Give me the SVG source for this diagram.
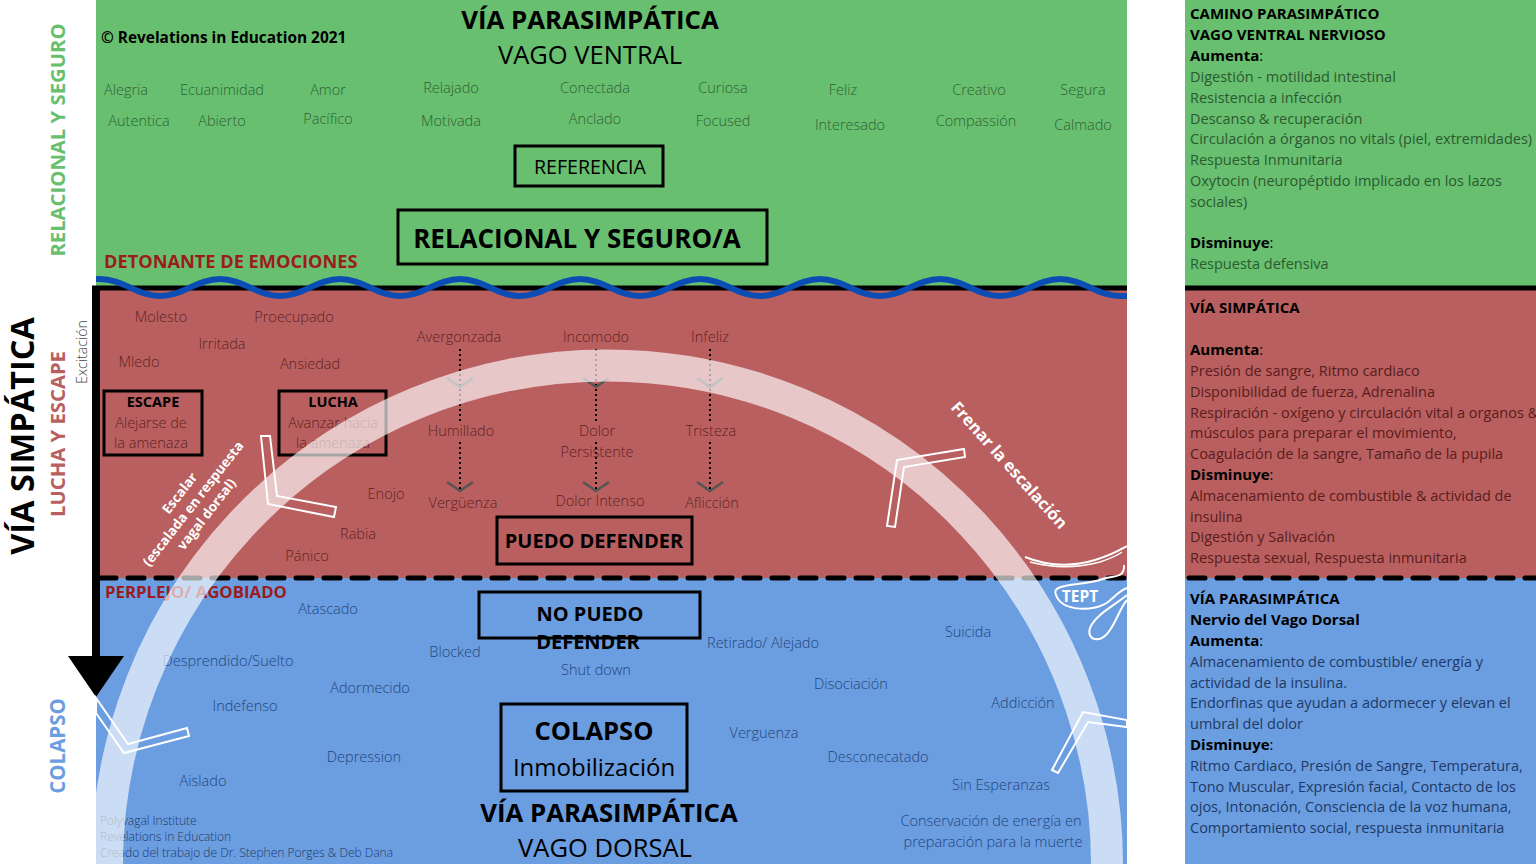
<svg xmlns="http://www.w3.org/2000/svg" width="1536" height="864" viewBox="0 0 1536 864">
<defs>
<style>
text { font-family: "Open Sans", "Liberation Sans", sans-serif; }
.h { font-weight: 700; fill: #000; text-anchor: middle; }
.hl { font-weight: 400; fill: #000; text-anchor: middle; }
.gw { font-size: 14.5px; font-weight: 300; fill: #2e5f35; text-anchor: middle; }
.rw { font-size: 14.5px; font-weight: 300; fill: #5e1f1f; text-anchor: middle; }
.bw { font-size: 14.5px; font-weight: 300; fill: #23467c; text-anchor: middle; }
.box { fill: none; stroke: #000; stroke-width: 3; }
.chev { fill: none; stroke: #fff; stroke-width: 2; stroke-linejoin: miter; }
.dot { stroke: #000; stroke-width: 2; stroke-dasharray: 2 3; fill: none; }
.vh { fill: none; stroke: #555; stroke-width: 2.5; }
.rp { font-size: 14.5px; font-weight: 400; }
.b { font-weight: 700; fill: #000; font-size: 15px; }
.dash { stroke: #000; stroke-width: 5; stroke-dasharray: 16 12; stroke-linecap: round; fill: none; }
.cr { font-size: 12px; font-weight: 300; fill: #1f3a66; }
</style>
</defs>
<rect x="0" y="0" width="1536" height="864" fill="#fff"/>

<g id="zones">
<rect x="96" y="0" width="1031" height="288" fill="#68bf6f"/>
<rect x="96" y="288" width="1031" height="290" fill="#b95f5f"/>
<rect x="96" y="578" width="1031" height="286" fill="#6b9de1"/>
<rect x="1185" y="0" width="351" height="288" fill="#68bf6f"/>
<rect x="1185" y="288" width="351" height="290" fill="#b95f5f"/>
<rect x="1185" y="578" width="351" height="286" fill="#6b9de1"/>
</g>

<g id="side-labels">
<text transform="translate(65,140) rotate(-90)" text-anchor="middle" font-size="20.3" font-weight="700" fill="#68bf6f">RELACIONAL Y SEGURO</text>
<text transform="translate(34,436) rotate(-90)" text-anchor="middle" font-size="32.5" font-weight="700" fill="#000">VÍA SIMPÁTICA</text>
<text transform="translate(65,434) rotate(-90)" text-anchor="middle" font-size="20.3" font-weight="700" fill="#b95f5f">LUCHA Y ESCAPE</text>
<text transform="translate(87,352) rotate(-90)" text-anchor="middle" font-size="14.2" font-weight="300" fill="#444">Excitación</text>
<text transform="translate(65,746) rotate(-90)" text-anchor="middle" font-size="20.5" font-weight="700" fill="#6b9de1">COLAPSO</text>
</g>

<g id="connectors">
<line x1="92" y1="288" x2="1127" y2="288" stroke="#000" stroke-width="5"/>
<line x1="1185" y1="288" x2="1536" y2="288" stroke="#000" stroke-width="5"/>
<line x1="96" y1="286" x2="96" y2="660" stroke="#000" stroke-width="8"/>
<polygon points="68,656 124,656 96,697" fill="#000"/>
<line class="dash" x1="100" y1="578" x2="1127" y2="578"/>
<line class="dash" x1="1189" y1="578" x2="1536" y2="578"/>
<path d="M96,279 L100,279 C122,279 138,296 160,296 S198,279 220,279 S258,296 280,296 S318,279 340,279 S378,296 400,296 S438,279 460,279 S498,296 520,296 S558,279 580,279 S618,296 640,296 S678,279 700,279 S738,296 760,296 S798,279 820,279 S858,296 880,296 S918,279 940,279 S978,296 1000,296 S1038,279 1060,279 S1098,296 1120,296 L1127,296" fill="none" stroke="#0b4cb5" stroke-width="6"/>
<path class="dot" d="M460,349 V424 M460,442 V490"/>
<path class="dot" d="M596,349 V424 M596,442 V490"/>
<path class="dot" d="M710,349 V424 M710,442 V490"/>
<path class="vh" d="M447,378 L460,387 L473,378 M447,482 L460,491 L473,482"/>
<path class="vh" d="M583,378 L596,387 L609,378 M583,482 L596,491 L609,482"/>
<path class="vh" d="M697,378 L710,387 L723,378 M697,482 L710,491 L723,482"/>
</g>

<g id="ventral">
<text x="101" y="43" font-size="15.4" font-weight="700" fill="#000">© Revelations in Education 2021</text>
<text class="h" x="590" y="29" font-size="25.8">VÍA PARASIMPÁTICA</text>
<text class="hl" x="590" y="64" font-size="25.5">VAGO VENTRAL</text>
<text class="gw" x="126" y="95">Alegria</text>
<text class="gw" x="222" y="95">Ecuanimidad</text>
<text class="gw" x="328" y="95">Amor</text>
<text class="gw" x="451" y="93">Relajado</text>
<text class="gw" x="595" y="93">Conectada</text>
<text class="gw" x="723" y="93">Curiosa</text>
<text class="gw" x="843" y="95">Feliz</text>
<text class="gw" x="979" y="95">Creativo</text>
<text class="gw" x="1083" y="95">Segura</text>
<text class="gw" x="139" y="126">Autentica</text>
<text class="gw" x="222" y="126">Abierto</text>
<text class="gw" x="328" y="124">Pacífico</text>
<text class="gw" x="451" y="126">Motivada</text>
<text class="gw" x="595" y="124">Anclado</text>
<text class="gw" x="723" y="126">Focused</text>
<text class="gw" x="850" y="130">Interesado</text>
<text class="gw" x="976" y="126">Compassión</text>
<text class="gw" x="1083" y="130">Calmado</text>
</g>
<g id="referencia">
<rect class="box" x="515" y="146" width="148" height="40" stroke-width="2.5"/>
<text class="hl" x="590" y="174" font-size="19.6" font-weight="300" fill="#111">REFERENCIA</text>
</g>
<g id="relacional">
<rect class="box" x="398" y="210" width="369" height="54"/>
<text class="h" x="577" y="248" font-size="26">RELACIONAL Y SEGURO/A</text>
</g>
<text x="104" y="268" font-size="18.2" font-weight="700" fill="#9b1c1c">DETONANTE DE EMOCIONES</text>

<g id="sympathetic">
<text class="rw" x="161" y="322">Molesto</text>
<text class="rw" x="294" y="322">Proecupado</text>
<text class="rw" x="222" y="349">Irritada</text>
<text class="rw" x="139" y="367">Mledo</text>
<text class="rw" x="310" y="369">Ansiedad</text>
<text class="rw" x="386" y="499">Enojo</text>
<text class="rw" x="358" y="539">Rabia</text>
<text class="rw" x="307" y="561">Pánico</text>
<text class="rw" x="459" y="342">Avergonzada</text>
<text class="rw" x="596" y="342">Incomodo</text>
<text class="rw" x="710" y="342">Infeliz</text>
<text class="rw" x="461" y="436">Humillado</text>
<text class="rw" x="597" y="436">Dolor</text>
<text class="rw" x="597" y="457">Persistente</text>
<text class="rw" x="711" y="436">Tristeza</text>
<text class="rw" x="463" y="508">Vergüenza</text>
<text class="rw" x="600" y="506">Dolor Intenso</text>
<text class="rw" x="712" y="508">Aflicción</text>
</g>
<g id="escape">
<rect class="box" x="104" y="391" width="98" height="64" stroke-width="2.5"/>
<text class="h" x="153" y="407" font-size="14.5">ESCAPE</text>
<text class="rw" x="151" y="428" fill="#3a1010">Alejarse de</text>
<text class="rw" x="151" y="448" fill="#3a1010">la amenaza</text>
</g>
<g id="lucha">
<rect class="box" x="279" y="391" width="107" height="64" stroke-width="2.5"/>
<text class="h" x="333" y="407" font-size="14.5">LUCHA</text>
<text class="rw" x="333" y="428" fill="#3a1010">Avanzar hacia</text>
<text class="rw" x="333" y="448" fill="#3a1010">la amenaza</text>
</g>
<g id="puedo">
<rect class="box" x="497" y="517" width="195" height="47"/>
<text class="h" x="594" y="548" font-size="20">PUEDO DEFENDER</text>
</g>

<g id="dorsal">
<text x="105" y="598" font-size="16.8" font-weight="700" fill="#9b1c1c">PERPLEJO/ AGOBIADO</text>
<text class="bw" x="328" y="614">Atascado</text>
<text class="bw" x="228" y="666">Desprendido/Suelto</text>
<text class="bw" x="455" y="657">Blocked</text>
<text class="bw" x="370" y="693">Adormecido</text>
<text class="bw" x="245" y="711">Indefenso</text>
<text class="bw" x="364" y="762">Depression</text>
<text class="bw" x="203" y="786">Aislado</text>
<text class="bw" x="596" y="675">Shut down</text>
<text class="bw" x="763" y="648">Retirado/ Alejado</text>
<text class="bw" x="968" y="637">Suicida</text>
<text class="bw" x="851" y="689">Disociación</text>
<text class="bw" x="1023" y="708">Addicción</text>
<text class="bw" x="764" y="738">Verguenza</text>
<text class="bw" x="878" y="762">Desconecatado</text>
<text class="bw" x="1001" y="790">Sin Esperanzas</text>
<text class="bw" x="991" y="826">Conservación de energía en</text>
<text class="bw" x="993" y="847">preparación para la muerte</text>
<text class="cr" x="100" y="825">Polyvagal Institute</text>
<text class="cr" x="100" y="841">Revelations in Education</text>
<text class="cr" x="100" y="857">Creado del trabajo de Dr. Stephen Porges &amp; Deb Dana</text>
<text class="h" x="609" y="822" font-size="25.8">VÍA PARASIMPÁTICA</text>
<text class="hl" x="605" y="857" font-size="25.5">VAGO DORSAL</text>
</g>
<g id="nopuedo">
<rect class="box" x="479" y="592" width="221" height="46"/>
<text class="h" x="590" y="621" font-size="20">NO PUEDO</text>
<text class="h" x="588" y="649" font-size="20">DEFENDER</text>
</g>
<g id="colapso">
<rect class="box" x="501" y="704" width="186" height="87"/>
<text class="h" x="594" y="740" font-size="25.5">COLAPSO</text>
<text class="hl" x="594" y="776" font-size="24" font-weight="300" fill="#111">Inmobilización</text>
</g>

<g id="arc">
<path d="M108.2,900 A500,500 0 1 1 1105.8,900" fill="none" stroke="#fff" stroke-opacity="0.65" stroke-width="32"/>
<text transform="translate(196,506) rotate(-52)" text-anchor="middle" font-size="13.5" font-weight="700" fill="#fff">
<tspan x="0" dy="-16">Escalar</tspan><tspan x="0" dy="17">(escalada en respuesta</tspan><tspan x="0" dy="17">vagal dorsal)</tspan></text>
<text transform="translate(1005,469) rotate(48)" text-anchor="middle" font-size="16.5" font-weight="700" fill="#fff">Frenar la escalación</text>
<polygon class="chev" points="261,436 270,436 277,496 336,507 334,517 268,504"/>
<polygon class="chev" points="887,526 897,460 964,449 965,457 904,467 895,527"/>
<polygon class="chev" points="96,698 128,744 187,728 189,736 124,753 96,713"/>
<polygon class="chev" points="1052,770 1083,712 1127,720 1127,727 1088,722 1058,773"/>
</g>

<g id="tept">
<path d="M1025,557 C1050,567 1075,566 1095,560 C1112,555 1120,550 1127,546" fill="none" stroke="#fff" stroke-width="2"/>
<path d="M1030,562 C1060,570 1085,566 1100,562 C1112,558 1118,555 1122,552" fill="none" stroke="#fff" stroke-width="1.5"/>
<path d="M1124,565 C1125,580 1110,575 1100,580 C1080,586 1050,583 1056,595 C1062,612 1095,612 1108,602 C1116,596 1120,590 1127,588" fill="none" stroke="#fff" stroke-width="2"/>
<path d="M1127,595 C1115,605 1095,615 1090,628 C1086,640 1100,645 1110,630 C1118,618 1120,608 1127,600" fill="none" stroke="#fff" stroke-width="2"/>
<text x="1080" y="602" text-anchor="middle" font-size="15.5" font-weight="700" fill="#fff">TEPT</text>
</g>

<g id="info-ventral" fill="#2b5a30">
<text x="1190" y="19" class="b">CAMINO PARASIMPÁTICO</text>
<text x="1190" y="40" class="b">VAGO VENTRAL NERVIOSO</text>
<text x="1190" y="61" class="rp"><tspan class="b">Aumenta</tspan><tspan fill="#000">:</tspan></text>
<text x="1190" y="82" class="rp">Digestión - motilidad intestinal</text>
<text x="1190" y="103" class="rp">Resistencia a infección</text>
<text x="1190" y="124" class="rp">Descanso &amp; recuperación</text>
<text x="1190" y="144" class="rp">Circulación a órganos no vitals (piel, extremidades)</text>
<text x="1190" y="165" class="rp">Respuesta Inmunitaria</text>
<text x="1190" y="186" class="rp">Oxytocin (neuropéptido implicado en los lazos</text>
<text x="1190" y="207" class="rp">sociales)</text>
<text x="1190" y="248" class="rp"><tspan class="b">Disminuye</tspan><tspan fill="#000">:</tspan></text>
<text x="1190" y="269" class="rp">Respuesta defensiva</text>
</g>
<g id="info-sympathetic" fill="#5a1c1c">
<text x="1190" y="313" class="b">VÍA SIMPÁTICA</text>
<text x="1190" y="355" class="rp"><tspan class="b">Aumenta</tspan><tspan fill="#000">:</tspan></text>
<text x="1190" y="376" class="rp">Presión de sangre, Ritmo cardiaco</text>
<text x="1190" y="397" class="rp">Disponibilidad de fuerza, Adrenalina</text>
<text x="1190" y="418" class="rp">Respiración - oxígeno y circulación vital a organos &amp;</text>
<text x="1190" y="438" class="rp">músculos para preparar el movimiento,</text>
<text x="1190" y="459" class="rp">Coagulación de la sangre, Tamaño de la pupila</text>
<text x="1190" y="480" class="rp"><tspan class="b">Disminuye</tspan><tspan fill="#000">:</tspan></text>
<text x="1190" y="501" class="rp">Almacenamiento de combustible &amp; actividad de</text>
<text x="1190" y="522" class="rp">insulina</text>
<text x="1190" y="542" class="rp">Digestión y Salivación</text>
<text x="1190" y="563" class="rp">Respuesta sexual, Respuesta inmunitaria</text>
</g>
<g id="info-dorsal" fill="#1d3a66">
<text x="1190" y="604" class="b">VÍA PARASIMPÁTICA</text>
<text x="1190" y="625" class="b">Nervio del Vago Dorsal</text>
<text x="1190" y="646" class="rp"><tspan class="b">Aumenta</tspan><tspan fill="#000">:</tspan></text>
<text x="1190" y="667" class="rp">Almacenamiento de combustible/ energía y</text>
<text x="1190" y="688" class="rp">actividad de la insulina.</text>
<text x="1190" y="708" class="rp">Endorfinas que ayudan a adormecer y elevan el</text>
<text x="1190" y="729" class="rp">umbral del dolor</text>
<text x="1190" y="750" class="rp"><tspan class="b">Disminuye</tspan><tspan fill="#000">:</tspan></text>
<text x="1190" y="771" class="rp">Ritmo Cardiaco, Presión de Sangre, Temperatura,</text>
<text x="1190" y="792" class="rp">Tono Muscular, Expresión facial, Contacto de los</text>
<text x="1190" y="812" class="rp">ojos, Intonación, Consciencia de la voz humana,</text>
<text x="1190" y="833" class="rp">Comportamiento social, respuesta inmunitaria</text>
</g>
</svg>
